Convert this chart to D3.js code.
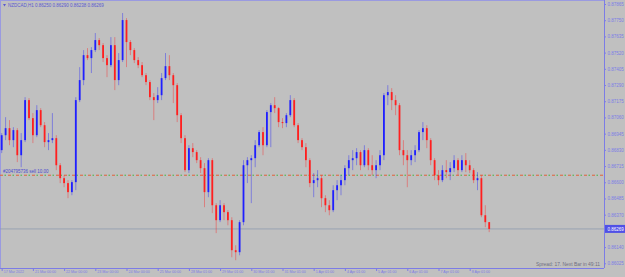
<!DOCTYPE html>
<html>
<head>
<meta charset="utf-8">
<script src="https://cdn.jsdelivr.net/npm/d3@7"></script>
<style>
  html, body { margin: 0; padding: 0; background: #c0c0c0; }
  svg { display: block; }
  text { font-family: "Liberation Sans", Arial, sans-serif; }
</style>
</head>
<body>
<svg id="chart" width="625" height="277"></svg>
<script>
// NZDCAD H1 (grouped ~3 hours per bar)
const titleText   = 'NZDCAD,H1  0.86250 0.86290 0.86238 0.86269';
const spreadText  = 'Spread: 17. Next Bar in 49:11';
const orderText   = '#204795736 sell 10.00';
const orderPrice  = 0.86650;
const lastPrice   = 0.86269;
const firstOpen   = 0.86828;

const highs = [
  0.86949, 0.87062, 0.87041, 0.86991, 0.86984, 0.86949, 0.87204, 0.87197, 0.87091, 0.87147,
  0.87126, 0.87027, 0.86949, 0.87091, 0.86934, 0.86736, 0.86650, 0.86615, 0.86615, 0.87204,
  0.87417, 0.87538, 0.87552, 0.87559, 0.87659, 0.87623, 0.87588, 0.87502, 0.87630, 0.87630,
  0.87517, 0.87801, 0.87765, 0.87609, 0.87552, 0.87488, 0.87453, 0.87375, 0.87325, 0.87233,
  0.87275, 0.87375, 0.87517, 0.87502, 0.87375, 0.87304, 0.87091, 0.86934, 0.86863, 0.86878,
  0.86828, 0.86778, 0.86736, 0.86771, 0.86771, 0.86452, 0.86473, 0.86452, 0.86402, 0.86352,
  0.86153, 0.86331, 0.86757, 0.86778, 0.86792, 0.86899, 0.86970, 0.86991, 0.87112, 0.87162,
  0.87204, 0.87133, 0.87055, 0.87091, 0.87218, 0.87197, 0.87020, 0.86913, 0.86878, 0.86771,
  0.86665, 0.86686, 0.86650, 0.86508, 0.86473, 0.86579, 0.86615, 0.86650, 0.86721, 0.86792,
  0.86828, 0.86842, 0.86828, 0.86863, 0.86842, 0.86792, 0.86757, 0.86828, 0.87233, 0.87289,
  0.87268, 0.87218, 0.87162, 0.86899, 0.86828, 0.86828, 0.86863, 0.86970, 0.87027, 0.87005,
  0.86913, 0.86771, 0.86686, 0.86721, 0.86757, 0.86743, 0.86792, 0.86771, 0.86792, 0.86807,
  0.86757, 0.86700, 0.86672, 0.86650, 0.86437, 0.86317
];
const lows = [
  0.86807, 0.86899, 0.86863, 0.86849, 0.86743, 0.86707, 0.86885, 0.87041, 0.86878, 0.86920,
  0.86991, 0.86849, 0.86828, 0.86878, 0.86686, 0.86594, 0.86565, 0.86487, 0.86508, 0.86544,
  0.87169, 0.87289, 0.87467, 0.87375, 0.87524, 0.87538, 0.87453, 0.87346, 0.87417, 0.87254,
  0.87289, 0.87453, 0.87417, 0.87502, 0.87446, 0.87410, 0.87346, 0.87289, 0.87183, 0.87041,
  0.87162, 0.87183, 0.87325, 0.87325, 0.87162, 0.87027, 0.86878, 0.86672, 0.86665, 0.86778,
  0.86736, 0.86665, 0.86423, 0.86494, 0.86381, 0.86239, 0.86317, 0.86331, 0.86295, 0.86068,
  0.86047, 0.86082, 0.86295, 0.86594, 0.86452, 0.86707, 0.86849, 0.86792, 0.86849, 0.86849,
  0.87091, 0.86991, 0.86984, 0.86991, 0.87062, 0.86991, 0.86878, 0.86828, 0.86707, 0.86565,
  0.86494, 0.86565, 0.86423, 0.86388, 0.86366, 0.86388, 0.86473, 0.86508, 0.86579, 0.86650,
  0.86686, 0.86721, 0.86686, 0.86707, 0.86686, 0.86650, 0.86629, 0.86686, 0.86757, 0.87147,
  0.87112, 0.87076, 0.86792, 0.86721, 0.86565, 0.86721, 0.86743, 0.86814, 0.86899, 0.86842,
  0.86721, 0.86615, 0.86579, 0.86601, 0.86629, 0.86615, 0.86672, 0.86650, 0.86672, 0.86672,
  0.86665, 0.86594, 0.86544, 0.86352, 0.86281, 0.86246
];
const closes = [
  0.86934, 0.86984, 0.86899, 0.86970, 0.86792, 0.86899, 0.87183, 0.87055, 0.86934, 0.87112,
  0.87005, 0.86885, 0.86899, 0.86913, 0.86721, 0.86629, 0.86594, 0.86530, 0.86601, 0.87183,
  0.87325, 0.87502, 0.87481, 0.87538, 0.87609, 0.87573, 0.87481, 0.87431, 0.87573, 0.87325,
  0.87467, 0.87751, 0.87595, 0.87538, 0.87467, 0.87431, 0.87360, 0.87311, 0.87204, 0.87183,
  0.87218, 0.87339, 0.87424, 0.87360, 0.87289, 0.87076, 0.86913, 0.86686, 0.86842, 0.86814,
  0.86757, 0.86700, 0.86530, 0.86757, 0.86437, 0.86331, 0.86437, 0.86388, 0.86331, 0.86118,
  0.86104, 0.86317, 0.86721, 0.86757, 0.86771, 0.86863, 0.86956, 0.86863, 0.87098, 0.87147,
  0.87126, 0.87027, 0.87020, 0.87076, 0.87183, 0.87005, 0.86899, 0.86849, 0.86757, 0.86594,
  0.86615, 0.86629, 0.86487, 0.86437, 0.86402, 0.86544, 0.86579, 0.86615, 0.86700, 0.86757,
  0.86771, 0.86814, 0.86721, 0.86828, 0.86721, 0.86686, 0.86721, 0.86792, 0.87218, 0.87240,
  0.87183, 0.87147, 0.86828, 0.86792, 0.86757, 0.86792, 0.86828, 0.86956, 0.86984, 0.86899,
  0.86757, 0.86650, 0.86615, 0.86686, 0.86672, 0.86700, 0.86757, 0.86686, 0.86757, 0.86721,
  0.86686, 0.86615, 0.86629, 0.86366, 0.86317, 0.86269
];

// 0.86255 is hidden behind the last-price tag in the screenshot
const priceTicks = [0.86025, 0.86140, 0.86370, 0.86485, 0.86600, 0.86715, 0.86830, 0.86945,
                    0.87060, 0.87175, 0.87290, 0.87405, 0.87520, 0.87635, 0.87750, 0.87865];
const timeTickBars = [0, 8, 16, 24, 32, 40, 48, 56, 64, 72, 80, 88, 96, 104, 112, 120];
const timeLabels = ['17 Mar 2022', '21 Mar 00:00', '22 Mar 00:00', '23 Mar 00:00', '24 Mar 00:00',
                    '25 Mar 00:00', '28 Mar 01:00', '29 Mar 01:00', '30 Mar 01:00', '31 Mar 01:00',
                    '1 Apr 01:00', '4 Apr 01:00', '5 Apr 01:00', '6 Apr 01:00', '7 Apr 01:00', '8 Apr 01:00'];

const WIDTH  = 625;
const HEIGHT = 277;
const AXISX  = 604;
const AXISY  = 268;
const axisColor = '#7c7ce6';
const upColor   = '#1f1fff';
const downColor = '#ff1f1f';

// open of each bar = previous close
const bars = closes.map((c, i) => ({
    i: i,
    o: i === 0 ? firstOpen : closes[i - 1],
    h: highs[i],
    l: lows[i],
    c: c
}));

const svg = d3.select('#chart');

const x = d3.scaleLinear().domain([0, closes.length - 1]).range([1.7, 489.2]);
const y = d3.scaleLinear().domain([0.86025, 0.87865]).range([263.3, 4]);

svg.append('rect')
    .attr('width', WIDTH).attr('height', HEIGHT)
    .attr('fill', '#c0c0c0');

// frame
svg.append('line').attr('x1', 0).attr('x2', AXISX).attr('y1', 0.5).attr('y2', 0.5)
    .attr('stroke', '#9a9ae0').attr('stroke-width', 1);
svg.append('line').attr('x1', 0.5).attr('x2', 0.5).attr('y1', 0).attr('y2', AXISY)
    .attr('stroke', '#9a9ae0').attr('stroke-width', 1);

// last price line
svg.append('line')
    .attr('x1', 0).attr('x2', AXISX)
    .attr('y1', y(lastPrice)).attr('y2', y(lastPrice))
    .attr('stroke', '#8f9aae').attr('stroke-width', 0.8);

// order line, red + green dash-dot
svg.append('line')
    .attr('x1', 0).attr('x2', AXISX)
    .attr('y1', y(orderPrice)).attr('y2', y(orderPrice))
    .attr('stroke', '#e0603a').attr('stroke-width', 1)
    .attr('stroke-dasharray', '3,5');
svg.append('line')
    .attr('x1', 0).attr('x2', AXISX)
    .attr('y1', y(orderPrice)).attr('y2', y(orderPrice))
    .attr('stroke', '#3fb83f').attr('stroke-width', 1)
    .attr('stroke-dasharray', '1.5,6.5').attr('stroke-dashoffset', -4.5);

svg.append('text')
    .attr('x', 3).attr('y', y(orderPrice) - 2)
    .attr('font-size', 4.5).attr('fill', '#4a4ad0')
    .text(orderText);

// candles
const candle = svg.append('g').selectAll('g')
    .data(bars).enter().append('g');

candle.append('line')
    .attr('x1', d => x(d.i)).attr('x2', d => x(d.i))
    .attr('y1', d => y(d.h)).attr('y2', d => y(d.l))
    .attr('stroke', d => d.c >= d.o ? upColor : downColor)
    .attr('stroke-opacity', 0.4)
    .attr('stroke-width', 1);

candle.append('rect')
    .attr('x', d => x(d.i) - 0.9)
    .attr('width', 1.8)
    .attr('y', d => y(Math.max(d.o, d.c)))
    .attr('height', d => Math.max(1, Math.abs(y(d.o) - y(d.c))))
    .attr('fill', d => d.c >= d.o ? upColor : downColor);

// price axis
const yAxis = svg.append('g')
    .attr('transform', `translate(${AXISX},0)`)
    .call(d3.axisRight(y).tickValues(priceTicks).tickFormat(d3.format('.5f')).tickSize(2).tickPadding(1.5));
yAxis.select('.domain').attr('stroke', axisColor).attr('d', `M0.5,0V${AXISY}`);
yAxis.selectAll('.tick line').attr('stroke', axisColor);
yAxis.selectAll('.tick text').attr('fill', axisColor).attr('font-size', 4.5)
    .attr('font-family', '"Liberation Sans", Arial, sans-serif');

// time axis
const xAxis = svg.append('g')
    .attr('transform', `translate(0,${AXISY})`)
    .call(d3.axisBottom(x).tickValues(timeTickBars).tickFormat((d, i) => timeLabels[i]).tickSize(3));
xAxis.select('.domain').attr('stroke', axisColor).attr('d', `M0,0.5H${AXISX}`);
xAxis.selectAll('.tick line').attr('stroke', axisColor);
xAxis.selectAll('.tick text')
    .attr('fill', axisColor).attr('font-size', 3.6)
    .attr('font-family', '"Liberation Sans", Arial, sans-serif')
    .attr('text-anchor', 'start').attr('x', 1.5).attr('y', 2.5).attr('dy', '0.71em');

// current price tag
const tagY = y(lastPrice);
svg.append('rect')
    .attr('x', AXISX + 1).attr('y', tagY - 4)
    .attr('width', WIDTH - AXISX - 1).attr('height', 8)
    .attr('fill', '#5050e6');
svg.append('text')
    .attr('x', AXISX + 3.5).attr('y', tagY + 1.6)
    .attr('font-size', 4.5).attr('fill', '#ffffff')
    .text(d3.format('.5f')(lastPrice));

// title
svg.append('path')
    .attr('d', 'M3,4 L6,4 L4.5,6.5 Z')
    .attr('fill', '#5a5ad0');
svg.append('text')
    .attr('x', 8).attr('y', 6.6)
    .attr('font-size', 4.5).attr('fill', '#5a5ad0')
    .text(titleText);

// spread info
svg.append('text')
    .attr('x', 600).attr('y', 266)
    .attr('text-anchor', 'end')
    .attr('font-size', 4.9).attr('fill', '#6f6f80')
    .attr('font-family', '"Liberation Mono", "DejaVu Sans Mono", monospace')
    .text(spreadText);
</script>
</body>
</html>
